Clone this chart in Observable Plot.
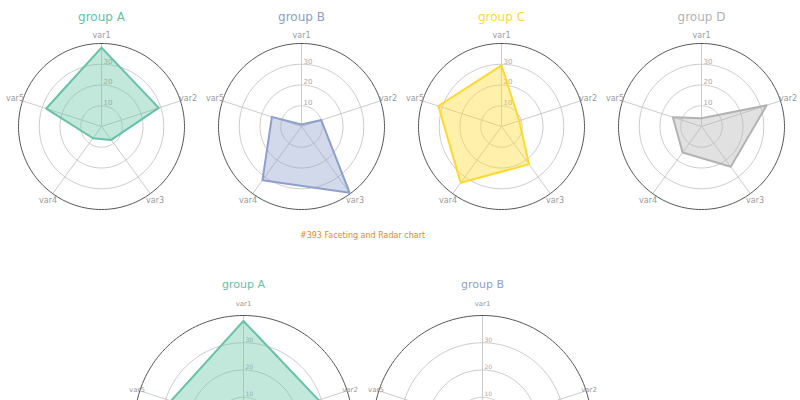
<!DOCTYPE html>
<html><head><meta charset="utf-8">
<script src="https://cdn.jsdelivr.net/npm/d3@7"></script>
<script src="https://cdn.jsdelivr.net/npm/@observablehq/plot@0.6"></script>
<style>body{margin:0;background:#fff}</style>
</head><body><div id="chart"></div>
<script>
const vars = ["var1","var2","var3","var4","var5"];
const groups = ["group A","group B","group C","group D"];
const valuesA = [38,29,8,7,28];
const valuesB = [1,10,39.5,32,15];
const valuesC = [29.5,9,22.5,33.5,32];
const valuesD = [4,33,24,15.5,14.5];
const colors = ["#66c2a5","#8da0cb","#ffd92f","#b3b3b3"];
const ringTicks = [10,20,30];
const maxValue = 40;
const caption = "#393 Faceting and Radar chart";

const values = [valuesA, valuesB, valuesC, valuesD];
const panels = [
  {g:0, cx:101, cy:126, R:83, ty:17, fs:12, ls:8, ts:7, lo:8, lo1:8},
  {g:1, cx:301, cy:126, R:83, ty:17, fs:12, ls:8, ts:7, lo:8, lo1:8},
  {g:2, cx:501, cy:126, R:83, ty:17, fs:12, ls:8, ts:7, lo:8, lo1:8},
  {g:3, cx:701, cy:126, R:83, ty:17, fs:12, ls:8, ts:7, lo:8, lo1:8},
  {g:0, cx:243, cy:424, R:109, ty:284, fs:11, ls:7, ts:6, lo:3, lo1:12},
  {g:1, cx:482, cy:424, R:109, ty:284, fs:11, ls:7, ts:6, lo:3, lo1:12}
];
const ang = i => i * 2 * Math.PI / vars.length;
const marks = [];
for (const p of panels) {
  const rs = d3.scaleLinear().domain([0, maxValue]).range([0, p.R]);
  const pt = (i, r) => ({x: p.cx + r*Math.sin(ang(i)), y: p.cy - r*Math.cos(ang(i))});
  const col = colors[p.g];
  for (const t of ringTicks) {
    const circ = d3.range(0, 361, 3).map(a => ({x:p.cx + rs(t)*Math.sin(a*Math.PI/180), y:p.cy - rs(t)*Math.cos(a*Math.PI/180)}));
    marks.push(Plot.line(circ, {x:"x", y:"y", stroke:"#cccccc", strokeWidth:1}));
  }
  marks.push(Plot.link(vars.map((v,i)=>({a:pt(i,0), b:pt(i,p.R)})), {x1:d=>d.a.x, y1:d=>d.a.y, x2:d=>d.b.x, y2:d=>d.b.y, stroke:"#cccccc", strokeWidth:1}));
  const outer = d3.range(0, 361, 2).map(a => ({x:p.cx + p.R*Math.sin(a*Math.PI/180), y:p.cy - p.R*Math.cos(a*Math.PI/180)}));
  marks.push(Plot.line(outer, {x:"x", y:"y", stroke:"#555555", strokeWidth:1}));
  marks.push(Plot.text(ringTicks, {x: p.cx + 2, y: t => p.cy - rs(t) - 3, text: t => String(t), textAnchor:"start", fill:"#aaaaaa", fontSize:p.ts}));
  const poly = values[p.g].map((v,i)=>pt(i, rs(v)));
  marks.push(Plot.line(poly, {x:"x", y:"y", curve:"linear-closed", fill:col, fillOpacity:0.4, stroke:col, strokeWidth:2}));
  marks.push(Plot.text(vars.map((v,i)=>({v, ...pt(i, p.R + (i === 0 ? p.lo1 : p.lo))})), {x:"x", y:"y", text:"v", fill:"#999999", fontSize:p.ls}));
  marks.push(Plot.text([groups[p.g]], {x: p.cx, y: p.ty, text: d=>d, fill: col, fontSize: p.fs}));
}
marks.push(Plot.text([caption], {x:362, y:235, text:d=>d, fill:"#e8891a", fontSize:8}));

const chart = Plot.plot({
  width:800, height:400, margin:0,
  style:{fontFamily:"'DejaVu Sans', sans-serif", background:"#fff", overflow:"hidden"},
  x:{domain:[0,800], range:[0,800], axis:null},
  y:{domain:[0,400], range:[0,400], axis:null},
  marks
});
document.getElementById("chart").appendChild(chart);
</script></body></html>
